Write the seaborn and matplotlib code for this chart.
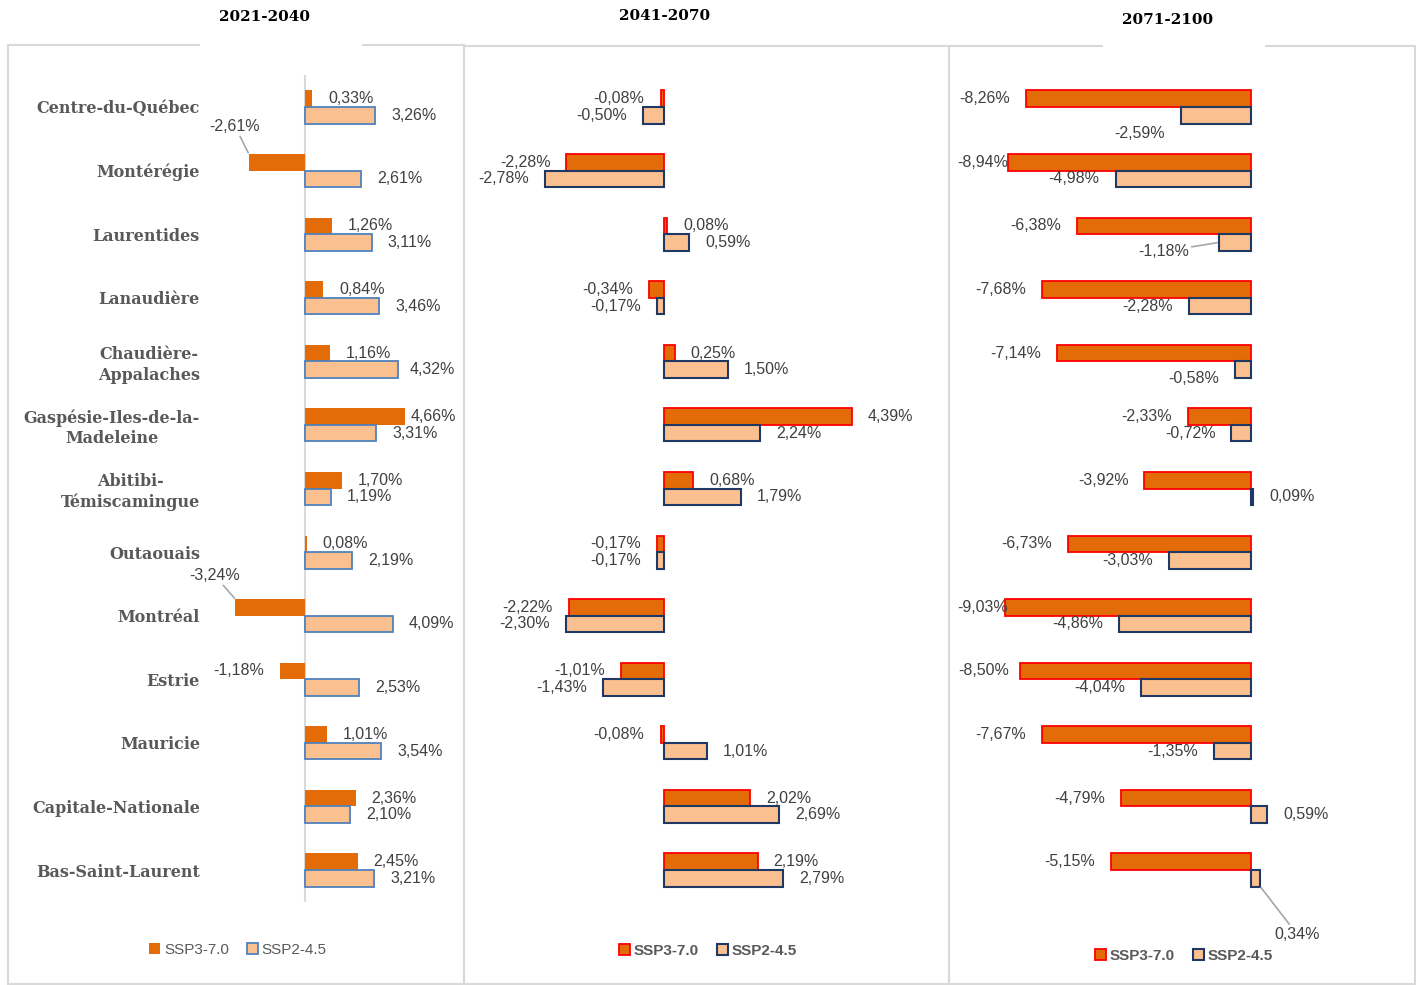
import pandas as pd
import seaborn as sns
import matplotlib.pyplot as plt
from matplotlib.patches import Patch, Rectangle

# data (% change)
regions = ["Centre-du-Québec", "Montérégie", "Laurentides", "Lanaudière",
           "Chaudière-\nAppalaches", "Gaspésie-Iles-de-la-\nMadeleine",
           "Abitibi-\nTémiscamingue", "Outaouais", "Montréal", "Estrie",
           "Mauricie", "Capitale-Nationale", "Bas-Saint-Laurent"]
scenarios = ["SSP3-7.0", "SSP2-4.5"]
periods = ["2021-2040", "2041-2070", "2071-2100"]

ssp3_2021 = [0.33, -2.61, 1.26, 0.84, 1.16, 4.66, 1.70, 0.08, -3.24, -1.18, 1.01, 2.36, 2.45]
ssp2_2021 = [3.26, 2.61, 3.11, 3.46, 4.32, 3.31, 1.19, 2.19, 4.09, 2.53, 3.54, 2.10, 3.21]
ssp3_2041 = [-0.08, -2.28, 0.08, -0.34, 0.25, 4.39, 0.68, -0.17, -2.22, -1.01, -0.08, 2.02, 2.19]
ssp2_2041 = [-0.50, -2.78, 0.59, -0.17, 1.50, 2.24, 1.79, -0.17, -2.30, -1.43, 1.01, 2.69, 2.79]
ssp3_2071 = [-8.26, -8.94, -6.38, -7.68, -7.14, -2.33, -3.92, -6.73, -9.03, -8.50, -7.67, -4.79, -5.15]
ssp2_2071 = [-2.59, -4.98, -1.18, -2.28, -0.58, -0.72, 0.09, -3.03, -4.86, -4.04, -1.35, 0.59, 0.34]

series = [(ssp3_2021, ssp2_2021), (ssp3_2041, ssp2_2041), (ssp3_2071, ssp2_2071)]

W, H = 1416, 985
ORANGE = "#E36C09"
PEACH = "#FAC090"
GRID = "#D9D9D9"
TXT = "#404040"
CAT = "#595959"

# layout per panel: zero position (px), px per %, x limits
layout = [dict(zero=305, scale=21.5, xlim=(-4.5, 7.0)),
          dict(zero=664, scale=42.8, xlim=(-3.5, 6.0)),
          dict(zero=1251, scale=27.2, xlim=(-9.5, 5.0))]
edges = [[("none", 0), ("#4F81BD", 1.3)],
         [("#FF0000", 1.3), ("#1F3864", 1.5)],
         [("#FF0000", 1.3), ("#1F3864", 1.5)]]

# manual label tweaks (pixels, y down): (panel, scenario, region)
tweaks = {
    (0, 0, 1): dict(anchor="top", dx=-14, dy=-28, ha="center", line=True),
    (0, 0, 8): dict(anchor="top", dx=-21, dy=-24, ha="center", line=True),
    (0, 0, 5): dict(dx=5),
    (0, 1, 4): dict(dx=12),
    (2, 1, 0): dict(dx=-16, dy=18),
    (2, 1, 2): dict(dx=-30, dy=9, line=True),
    (2, 1, 4): dict(dy=9),
    (2, 1, 12): dict(anchor="bottom", dx=37, dy=48, ha="center", line=True),
    (2, 0, 1): dict(dx=0),
    (2, 0, 8): dict(dx=3),
    (2, 0, 9): dict(dx=-11),
}


def pct(v):
    return f"{v:.2f}%".replace(".", ",")


fig = plt.figure(figsize=(W / 100, H / 100), dpi=100)

# panel frames
frames = [(8, 45, 464, 984), (464, 46, 949, 984), (949, 46, 1415, 984)]
for x0, y0, x1, y1 in frames:
    fig.add_artist(Rectangle((x0 / W, 1 - y1 / H), (x1 - x0) / W, (y1 - y0) / H,
                             transform=fig.transFigure, fill=False, ec=GRID, lw=1.5))
for x0, x1 in [(200, 362), (1103, 1265)]:
    fig.add_artist(Rectangle((x0 / W, 1 - 52 / H), (x1 - x0) / W, 12 / H,
                             transform=fig.transFigure, fc="white", ec="none"))

titles_xy = [(265, 17), (665, 16), (1168, 20)]
legend_xy = [(238, 950), (708, 951), (1184, 956)]

top_px, bot_px = 75.2, 901.8
for p in range(3):
    lay = layout[p]
    left = lay["zero"] + lay["xlim"][0] * lay["scale"]
    right = lay["zero"] + lay["xlim"][1] * lay["scale"]
    ax = fig.add_axes([left / W, 1 - bot_px / H, (right - left) / W, (bot_px - top_px) / H])

    s3, s2 = series[p]
    df = pd.DataFrame({"region": regions * 2,
                       "scenario": [s for s in scenarios for _ in regions],
                       "value": s3 + s2})
    sns.barplot(data=df, x="value", y="region", hue="scenario", orient="h",
                order=regions, hue_order=scenarios, palette=[ORANGE, PEACH],
                saturation=1, width=0.52, errorbar=None, legend=False, ax=ax)
    ax.set_xlim(*lay["xlim"])
    ax.set_ylim(12.5, -0.5)
    for sp in ax.spines.values():
        sp.set_visible(False)
    ax.set_xticks([])
    ax.set_xlabel("")
    ax.set_ylabel("")
    if p == 0:
        ax.axvline(0, color=GRID, lw=1.5, zorder=0)
        ax.tick_params(axis="y", length=0, pad=6)
        for lab in ax.get_yticklabels():
            lab.set_fontfamily("DejaVu Serif")
            lab.set_fontweight("bold")
            lab.set_fontsize(11.5)
            lab.set_color(CAT)
            lab.set_multialignment("center")
            lab.set_linespacing(1.25)
    else:
        ax.set_yticks([])

    for ci, cont in enumerate(ax.containers):
        ec, lw = edges[p][ci]
        vals = series[p][ci]
        for ri, bar in enumerate(cont):
            bar.set_edgecolor(ec)
            bar.set_linewidth(lw)
            v = vals[ri]
            tw = tweaks.get((p, ci, ri), {})
            anchor = tw.get("anchor", "center")
            y = bar.get_y() + bar.get_height() / 2
            if anchor == "top":
                y = bar.get_y()
            elif anchor == "bottom":
                y = bar.get_y() + bar.get_height()
            sign = 1 if v >= 0 else -1
            dx = tw.get("dx", 16 * sign)
            dy = tw.get("dy", 0)
            ha = tw.get("ha", "left" if v >= 0 else "right")
            kw = {}
            if tw.get("line"):
                kw["arrowprops"] = dict(arrowstyle="-", color="#A6A6A6", lw=1.2,
                                        shrinkA=0, shrinkB=1)
            ax.annotate(pct(v), xy=(v, y), xytext=(dx * 0.72, -dy * 0.72),
                        textcoords="offset points", ha=ha, va="center",
                        fontsize=11.5, color=TXT, family="Liberation Sans", **kw)

    tx, ty = titles_xy[p]
    fig.text(tx / W, 1 - ty / H, periods[p], ha="center", va="center",
             fontsize=11, fontweight="bold", family="DejaVu Serif", color="black")

    handles = [Patch(facecolor=ORANGE, edgecolor=edges[p][0][0], linewidth=edges[p][0][1]),
               Patch(facecolor=PEACH, edgecolor=edges[p][1][0], linewidth=edges[p][1][1])]
    lx, ly = legend_xy[p]
    fig.legend(handles, scenarios, loc="center", bbox_to_anchor=(lx / W, 1 - ly / H),
               ncol=2, frameon=False, handlelength=0.7, handleheight=0.7,
               handletextpad=0.25, columnspacing=1.2, labelcolor=CAT,
               prop=dict(family="Liberation Sans", size=11,
                         weight="normal" if p == 0 else "bold"))

fig.savefig("out.png", dpi=100)
